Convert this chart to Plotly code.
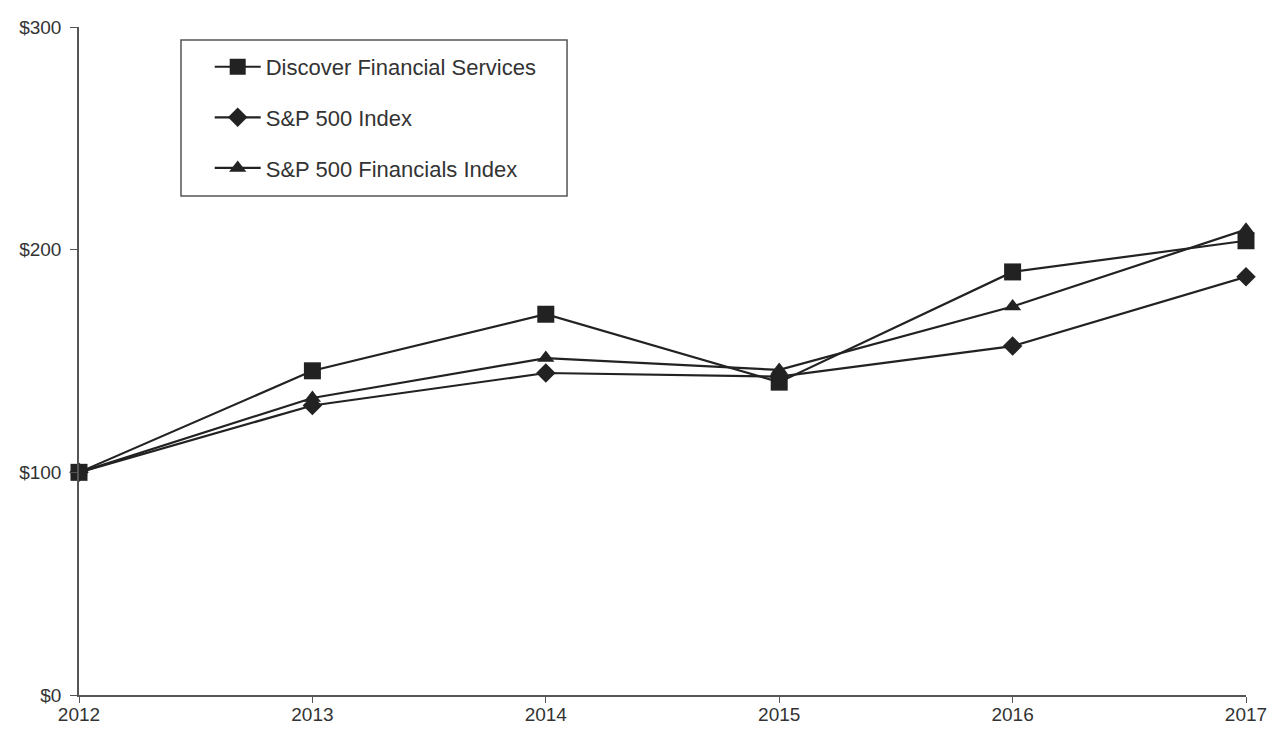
import plotly.graph_objects as go

years = [2012, 2013, 2014, 2015, 2016, 2017]
discover = [100, 145.6, 171, 140.5, 190, 204]
sp500 = [100, 130, 144.6, 143, 156.7, 187.8]
sp500_fin = [100, 133.4, 151.3, 146, 174.5, 209]
y_ticks = [0, 100, 200, 300]
y_labels = ["$0", "$100", "$200", "$300"]

series = [
    ("Discover Financial Services", discover, "square", 17),
    ("S&P 500 Index", sp500, "diamond", 15),
    ("S&P 500 Financials Index", sp500_fin, "triangle-up", 15),
]

fig = go.Figure()
for i, (name, vals, sym, size) in enumerate(series):
    fig.add_trace(go.Scatter(
        x=years, y=vals, name=name, mode="lines+markers",
        line=dict(color="#222222", width=2.2),
        marker=dict(symbol=sym, size=size, color="#222222"),
        legendgroup=f"g{i}", cliponaxis=False,
    ))

# legend frame
fig.add_shape(type="rect", xref="paper", yref="paper",
              x0=0.0874, x1=0.4182, y0=0.747, y1=0.9805,
              line=dict(color="#555555", width=1.5), fillcolor="white", layer="below")

fig.update_layout(
    width=1273, height=730,
    margin=dict(l=79, r=27, t=27, b=35),
    plot_bgcolor="white", paper_bgcolor="white",
    font=dict(family="Liberation Sans, Arial, sans-serif", size=19, color="#333333"),
    showlegend=True,
    legend=dict(
        x=0.112, y=0.9716, xanchor="left", yanchor="top",
        bgcolor="rgba(0,0,0,0)", borderwidth=0,
        font=dict(size=22, color="#333333"),
        traceorder="grouped", tracegroupgap=19,
        itemwidth=46,
    ),
    xaxis=dict(
        range=[2012, 2017], tickmode="array", tickvals=years,
        ticktext=[str(y) for y in years],
        showgrid=False, zeroline=False, showline=True,
        linecolor="#555555", linewidth=1.5,
        ticks="outside", ticklen=6, tickcolor="#555555",
        automargin=False, ticklabelstandoff=-5,
    ),
    yaxis=dict(
        range=[0, 300], tickmode="array", tickvals=y_ticks, ticktext=y_labels,
        showgrid=False, zeroline=False, showline=True,
        linecolor="#555555", linewidth=1.5,
        ticks="outside", ticklen=7, tickcolor="#555555",
        automargin=False, ticklabelstandoff=5,
    ),
)

fig.write_html("out.html", config={"displayModeBar": False},
               post_script="document.body.style.margin='0';")
